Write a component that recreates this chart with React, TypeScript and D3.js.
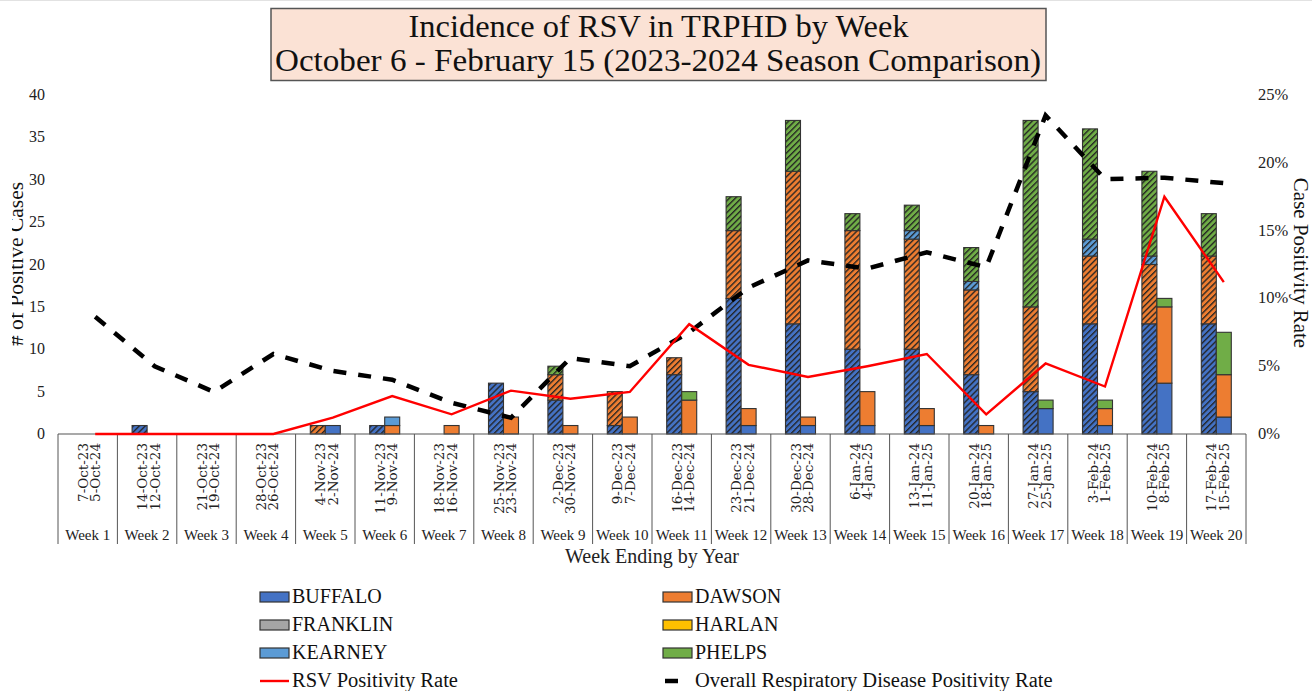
import React from "react";
import * as d3 from "d3";

const weeks = Array.from({ length: 20 }, (_, i) => `Week ${i + 1}`);
const dates2023 = ["7-Oct-23","14-Oct-23","21-Oct-23","28-Oct-23","4-Nov-23","11-Nov-23","18-Nov-23","25-Nov-23","2-Dec-23","9-Dec-23","16-Dec-23","23-Dec-23","30-Dec-23","6-Jan-24","13-Jan-24","20-Jan-24","27-Jan-24","3-Feb-24","10-Feb-24","17-Feb-24"];
const dates2024 = ["5-Oct-24","12-Oct-24","19-Oct-24","26-Oct-24","2-Nov-24","9-Nov-24","16-Nov-24","23-Nov-24","30-Nov-24","7-Dec-24","14-Dec-24","21-Dec-24","28-Dec-24","4-Jan-25","11-Jan-25","18-Jan-25","25-Jan-25","1-Feb-25","8-Feb-25","15-Feb-25"];

const counties = ["BUFFALO", "DAWSON", "FRANKLIN", "HARLAN", "KEARNEY", "PHELPS"];
const countyColors = ["#4472C4", "#ED7D31", "#A5A5A5", "#FFC000", "#5B9BD5", "#70AD47"];

// 2023-2024 season (hatched bars)
const buffalo23 = [0,1,0,0,0,1,0,6,4,1,7,16,13,10,10,7,5,13,13,13];
const dawson23 = [0,0,0,0,1,0,0,0,3,4,2,8,18,14,13,10,10,8,7,8];
const franklin23 = [0,0,0,0,0,0,0,0,0,0,0,0,0,0,0,0,0,0,0,0];
const harlan23 = [0,0,0,0,0,0,0,0,0,0,0,0,0,0,0,0,0,0,0,0];
const kearney23 = [0,0,0,0,0,0,0,0,0,0,0,0,0,0,1,1,0,2,1,0];
const phelps23 = [0,0,0,0,0,0,0,0,1,0,0,4,6,2,3,4,22,13,10,5];

// 2024-2025 season (solid bars)
const buffalo24 = [0,0,0,0,1,0,0,0,0,0,0,1,1,1,1,0,3,1,6,2];
const dawson24 = [0,0,0,0,0,1,1,2,1,2,4,2,1,4,2,1,0,2,9,5];
const franklin24 = [0,0,0,0,0,0,0,0,0,0,0,0,0,0,0,0,0,0,0,0];
const harlan24 = [0,0,0,0,0,0,0,0,0,0,0,0,0,0,0,0,0,0,0,0];
const kearney24 = [0,0,0,0,0,1,0,0,0,0,0,0,0,0,0,0,0,0,0,0];
const phelps24 = [0,0,0,0,0,0,0,0,0,0,1,0,0,0,0,0,1,1,1,5];

// Positivity rates (%)
const rsvRate = [0,0,0,0,1.2,2.8,1.45,3.2,2.6,3.1,8.1,5.1,4.2,5.0,5.9,1.45,5.2,3.5,17.5,11.2];
const overallRate = [8.65,5.0,3.1,5.9,4.65,4.0,2.3,1.2,5.6,5.0,7.5,10.8,12.8,12.2,13.4,12.3,23.5,18.8,18.9,18.5];

const leftTicks = [0,5,10,15,20,25,30,35,40];
const rightTicks = [0,5,10,15,20,25];

const W = 1312, H = 691;
const SERIF = "'Liberation Serif', 'Times New Roman', serif";
const DSERIF = "'DejaVu Serif', serif";

function buildRows(arrs: number[][]) {
  return weeks.map((w, i) => {
    const r: any = { week: w };
    counties.forEach((c, k) => (r[c] = arrs[k][i]));
    return r;
  });
}

export default function App() {
  const x = d3.scaleBand<string>().domain(weeks).range([58, 1246]).padding(0);
  const y = d3.scaleLinear().domain([0, 40]).range([434, 95]);
  const y2 = d3.scaleLinear().domain([0, 25]).range([434, 95]);
  const bw = 15;
  const cx = (w: string) => (x(w) as number) + x.bandwidth() / 2;

  const stack = d3.stack<any>().keys(counties);
  const s23 = stack(buildRows([buffalo23, dawson23, franklin23, harlan23, kearney23, phelps23]));
  const s24 = stack(buildRows([buffalo24, dawson24, franklin24, harlan24, kearney24, phelps24]));

  const line = d3
    .line<number>()
    .x((_, i) => cx(weeks[i]) + bw / 2)
    .y((d) => y2(d));

  const legendLeft = [
    { name: "BUFFALO", color: countyColors[0] },
    { name: "FRANKLIN", color: countyColors[2] },
    { name: "KEARNEY", color: countyColors[4] },
  ];
  const legendRight = [
    { name: "DAWSON", color: countyColors[1] },
    { name: "HARLAN", color: countyColors[3] },
    { name: "PHELPS", color: countyColors[5] },
  ];
  const rowY = [597, 625, 653, 681];

  return (
    <svg width={W} height={H} style={{ position: "absolute", left: 0, top: 0, background: "#fff" }}>
      <defs>
        <pattern id="hatch" patternUnits="userSpaceOnUse" width={4.2} height={4.2} patternTransform="rotate(45)">
          <line x1={0.7} y1={0} x2={0.7} y2={4.2} stroke="#222" strokeWidth={1.4} strokeOpacity={0.95} />
        </pattern>
        <clipPath id="leftclip">
          <rect x={12} y={0} width={100} height={H} />
        </clipPath>
      </defs>

      <line x1={0} x2={W} y1={0.5} y2={0.5} stroke="#e2e2e2" />

      {/* Title */}
      <rect x={271} y={8.5} width={775} height={72} fill="#FBE2D5" stroke="#555" strokeWidth={1.5} />
      <text x={658.5} y={37} textAnchor="middle" fontFamily={SERIF} fontSize={31} fill="#111" textLength={500} lengthAdjust="spacingAndGlyphs">
        Incidence of RSV in TRPHD by Week
      </text>
      <text x={658} y={71} textAnchor="middle" fontFamily={SERIF} fontSize={31} fill="#111" textLength={766} lengthAdjust="spacingAndGlyphs">
        October 6 - February 15 (2023-2024 Season Comparison)
      </text>

      {/* Left axis ticks */}
      {leftTicks.map((t) => (
        <text key={"l" + t} x={45} y={y(t) + 5} textAnchor="end" fontFamily={SERIF} fontSize={16} fill="#222">
          {t}
        </text>
      ))}
      {/* Right axis ticks */}
      {rightTicks.map((t) => (
        <text key={"r" + t} x={1258} y={y2(t) + 5} textAnchor="start" fontFamily={SERIF} fontSize={16.5} fill="#222">
          {t}%
        </text>
      ))}

      {/* Axis titles */}
      <g clipPath="url(#leftclip)">
        <text transform={`translate(23,264) rotate(-90)`} textAnchor="middle" fontFamily={SERIF} fontSize={21.5} fill="#111">
          # of Positive Cases
        </text>
      </g>
      <text transform={`translate(1294,263) rotate(90)`} textAnchor="middle" fontFamily={SERIF} fontSize={21} fill="#111">
        Case Positivity Rate
      </text>

      {/* Bars 2023-24 hatched */}
      {s23.map((layer, k) =>
        layer.map((d, i) => {
          const h = y(d[0]) - y(d[1]);
          if (h <= 0) return null;
          const bx = cx(weeks[i]) - bw;
          return (
            <g key={`h${k}-${i}`}>
              <rect x={bx} y={y(d[1])} width={bw} height={h} fill={countyColors[k]} />
              <rect x={bx} y={y(d[1])} width={bw} height={h} fill="url(#hatch)" stroke="#333" strokeWidth={1.1} />
            </g>
          );
        })
      )}
      {/* Bars 2024-25 solid */}
      {s24.map((layer, k) =>
        layer.map((d, i) => {
          const h = y(d[0]) - y(d[1]);
          if (h <= 0) return null;
          const bx = cx(weeks[i]);
          return (
            <rect key={`s${k}-${i}`} x={bx} y={y(d[1])} width={bw} height={h} fill={countyColors[k]} stroke="#333" strokeWidth={1.1} />
          );
        })
      )}

      {/* X axis baseline and category boxes */}
      <line x1={58} x2={1246} y1={434} y2={434} stroke="#555" strokeWidth={1.2} />
      {weeks.map((w) => (
        <line key={"v" + w} x1={x(w) as number} x2={x(w) as number} y1={434} y2={544} stroke="#555" strokeWidth={1} />
      ))}
      <line x1={1246} x2={1246} y1={434} y2={544} stroke="#555" strokeWidth={1} />

      {weeks.map((w, i) => (
        <g key={"d" + w}>
          <text transform={`translate(${cx(w)},443) rotate(-90)`} textAnchor="end" fontFamily={DSERIF} fontSize={13.5} fill="#222">
            {dates2023[i]}
          </text>
          <text transform={`translate(${cx(w) + 12.5},443) rotate(-90)`} textAnchor="end" fontFamily={DSERIF} fontSize={13.5} fill="#222">
            {dates2024[i]}
          </text>
          <text x={cx(w)} y={540} textAnchor="middle" fontFamily={SERIF} fontSize={15} fill="#222">
            {w}
          </text>
        </g>
      ))}
      <text x={652} y={563} textAnchor="middle" fontFamily={SERIF} fontSize={20} fill="#222">
        Week Ending by Year
      </text>

      {/* Lines */}
      <path d={line(overallRate) as string} fill="none" stroke="#000" strokeWidth={4.5} strokeDasharray="13,12" />
      <path d={line(rsvRate) as string} fill="none" stroke="#FF0000" strokeWidth={2.4} />

      {/* Legend */}
      {legendLeft.map((l, i) => (
        <g key={l.name}>
          <rect x={260} y={rowY[i] - 5} width={29} height={10} fill={l.color} stroke="#333" strokeWidth={1.2} />
          <text x={292} y={rowY[i] + 6} fontFamily={SERIF} fontSize={20} fill="#111">{l.name}</text>
        </g>
      ))}
      {legendRight.map((l, i) => (
        <g key={l.name}>
          <rect x={663} y={rowY[i] - 5} width={29} height={10} fill={l.color} stroke="#333" strokeWidth={1.2} />
          <text x={695} y={rowY[i] + 6} fontFamily={SERIF} fontSize={20} fill="#111">{l.name}</text>
        </g>
      ))}
      <line x1={260} x2={289} y1={rowY[3]} y2={rowY[3]} stroke="#FF0000" strokeWidth={2.4} />
      <text x={292} y={rowY[3] + 6} fontFamily={SERIF} fontSize={20.5} fill="#111">RSV Positivity Rate</text>
      <line x1={665} x2={678} y1={rowY[3]} y2={rowY[3]} stroke="#000" strokeWidth={4.5} />
      <text x={695} y={rowY[3] + 6} fontFamily={SERIF} fontSize={20.5} fill="#111">Overall Respiratory Disease Positivity Rate</text>
    </svg>
  );
}
